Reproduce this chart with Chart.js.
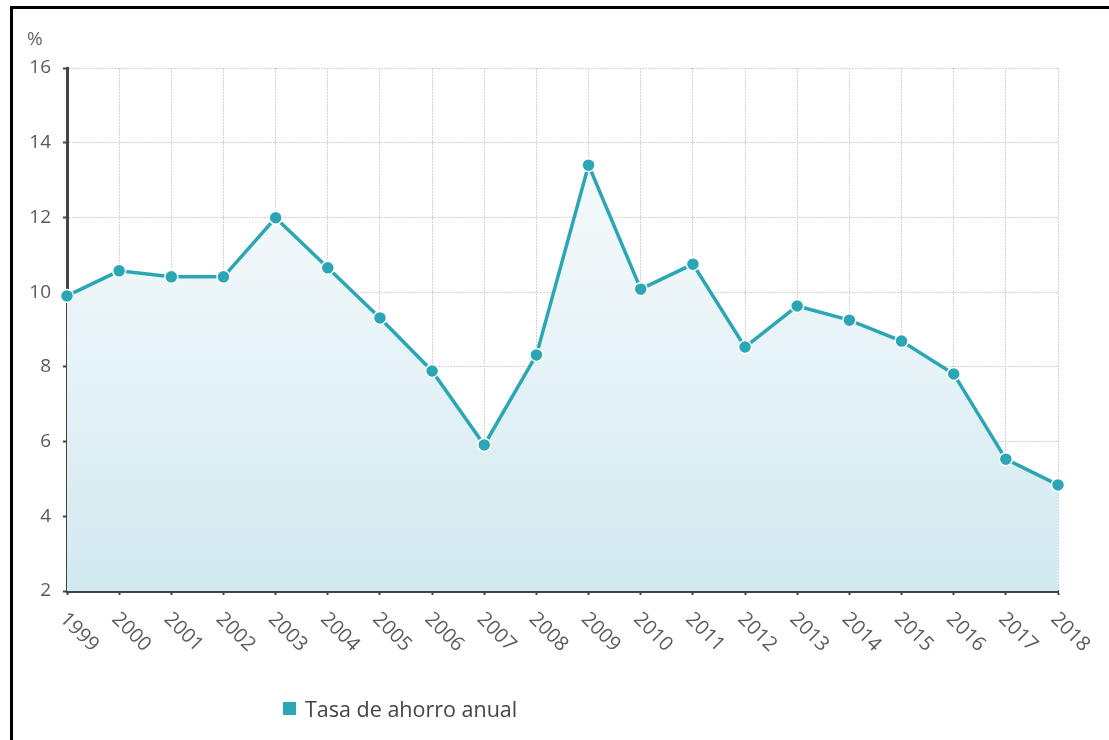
<!DOCTYPE html>
<html>
<head>
<meta charset="utf-8">
<script src="https://cdn.jsdelivr.net/npm/chart.js@4"></script>
<style>
  html, body { margin: 0; padding: 0; background: #fff; }
  #wrap { position: relative; width: 1109px; height: 740px; overflow: hidden; }
  #frameLeft { position: absolute; left: 10px; top: 6px; width: 3px; height: 734px; background: #000; }
  #frameTop { position: absolute; left: 10px; top: 6px; width: 1099px; height: 3px; background: #000; }
  #unit { position: absolute; left: 27px; top: 25px; font: 19px "Open Sans", sans-serif; color: #666; }
  #legend { position: absolute; left: 283px; top: 694px; font: 21.5px "Open Sans", sans-serif; color: #444; display: flex; align-items: center; }
  #legend .sw { width: 13px; height: 13px; background: #2ba6b5; margin-right: 9px; }
  canvas { position: absolute; left: 0; top: 0; }
</style>
</head>
<body>
<div id="wrap">
  <canvas id="c" width="1109" height="740"></canvas>
  <div id="frameLeft"></div>
  <div id="frameTop"></div>
  <div id="unit">%</div>
  <div id="legend"><span class="sw"></span><span>Tasa de ahorro anual</span></div>
</div>
<script>
const years = ['1999','2000','2001','2002','2003','2004','2005','2006','2007','2008','2009','2010','2011','2012','2013','2014','2015','2016','2017','2018'];
const savingsRate = [9.9, 10.57, 10.41, 10.41, 11.99, 10.65, 9.31, 7.89, 5.91, 8.32, 13.4, 10.08, 10.75, 8.53, 9.63, 9.25, 8.69, 7.81, 5.53, 4.84];
const seriesLabel = 'Tasa de ahorro anual';
const yMin = 2, yMax = 16, yStep = 2;

const lineColor = '#2ba6b5';

const rotatedXLabels = {
  id: 'rotatedXLabels',
  afterDraw(chart) {
    const ctx = chart.ctx;
    const xs = chart.scales.x;
    ctx.save();
    ctx.font = '20px "Open Sans", sans-serif';
    ctx.fillStyle = '#5a5a5a';
    ctx.textAlign = 'left';
    ctx.textBaseline = 'top';
    years.forEach((lab, i) => {
      const x = xs.getPixelForValue(i);
      ctx.save();
      ctx.translate(x + 3, 609);
      ctx.rotate(Math.PI / 4);
      ctx.fillText(lab, 0, 0);
      ctx.restore();
    });
    ctx.restore();
  }
};

new Chart(document.getElementById('c'), {
  type: 'line',
  data: {
    labels: years,
    datasets: [{
      label: seriesLabel,
      data: savingsRate,
      borderColor: lineColor,
      borderWidth: 3.5,
      tension: 0,
      fill: 'start',
      backgroundColor: (context) => {
        const chart = context.chart;
        const area = chart.chartArea;
        if (!area) return 'rgba(212,234,241,0.8)';
        const g = chart.ctx.createLinearGradient(0, area.top, 0, area.bottom);
        g.addColorStop(0, '#fbfdfe');
        g.addColorStop(0.4, '#edf6f9');
        g.addColorStop(1, '#d2e9f0');
        return g;
      },
      pointRadius: 6.5,
      pointHoverRadius: 6.5,
      pointBackgroundColor: lineColor,
      pointBorderColor: '#ffffff',
      pointBorderWidth: 1.5
    }]
  },
  options: {
    responsive: false,
    animation: false,
    layout: { padding: { left: 0, top: 68, right: 51, bottom: 145 } },
    plugins: {
      legend: { display: false },
      tooltip: { enabled: false }
    },
    scales: {
      x: {
        offset: false,
        grid: {
          color: '#d2d2d2',
          lineWidth: 1,
          borderDash: [2, 2],
          drawTicks: true,
          tickLength: 4,
          tickColor: '#444',
          tickWidth: 2
        },
        border: { display: true, color: '#444', width: 3, dash: [2, 1] },
        ticks: { display: false }
      },
      y: {
        min: yMin,
        max: yMax,
        afterFit: (s) => { s.width = 67; },
        ticks: {
          stepSize: yStep,
          font: { family: '"Open Sans", sans-serif', size: 19 },
          color: '#5a5a5a',
          padding: 12
        },
        grid: {
          color: '#d2d2d2',
          lineWidth: 1,
          borderDash: [2, 2],
          drawTicks: true,
          tickLength: 4,
          tickColor: '#444',
          tickWidth: 2
        },
        border: { display: true, color: '#444', width: 3, dash: [2, 1] }
      }
    }
  },
  plugins: [rotatedXLabels]
});
</script>
</body>
</html>
